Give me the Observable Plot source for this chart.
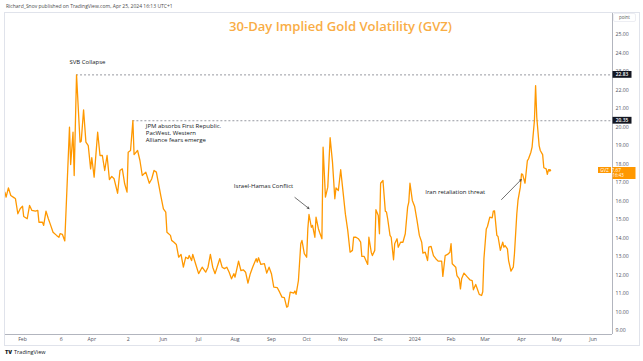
<!DOCTYPE html>
<html><head><meta charset="utf-8">
<script src="https://cdn.jsdelivr.net/npm/d3@7"></script>
<script src="https://cdn.jsdelivr.net/npm/@observablehq/plot@0.6"></script>
<style>
body{margin:0;background:#fff;}
#wrap{position:relative;width:643px;height:361px;overflow:hidden;font-family:"Open Sans",sans-serif;}
#hdr{position:absolute;left:6px;top:3px;font-size:5px;line-height:6px;color:#4a4a4a;white-space:nowrap}
#chart{position:absolute;left:0;top:12px}
#box{position:absolute;left:4px;top:12px;width:636px;height:334px;border:1px solid #e0e3eb;box-sizing:border-box;pointer-events:none}
#ftr{position:absolute;left:5px;top:349px;font-size:5.5px;line-height:6px;color:#131722;white-space:nowrap}
#ftr b{font-weight:900;font-size:5.5px;margin-right:2px}
</style></head>
<body>
<div id="wrap">
<div id="hdr">Richard_Snov published on TradingView.com, Apr 25, 2024 16:13 UTC+1</div>
<div id="chart"></div>
<div id="box"></div>
<div id="ftr"><b>TV</b>TradingView</div>
</div>
<script>
const dates = ["2023-01-17","2023-01-18","2023-01-20","2023-01-22","2023-01-25","2023-01-26","2023-01-28","2023-01-30","2023-02-01","2023-02-02","2023-02-05","2023-02-07","2023-02-09","2023-02-12","2023-02-14","2023-02-15","2023-02-18","2023-02-19","2023-02-21","2023-02-23","2023-02-25","2023-02-27","2023-03-02","2023-03-04","2023-03-05","2023-03-07","2023-03-09","2023-03-13","2023-03-14","2023-03-16","2023-03-17","2023-03-19","2023-03-22","2023-03-23","2023-03-25","2023-03-27","2023-03-29","2023-03-31","2023-04-01","2023-04-03","2023-04-06","2023-04-08","2023-04-10","2023-04-12","2023-04-14","2023-04-16","2023-04-18","2023-04-20","2023-04-23","2023-04-25","2023-04-27","2023-04-29","2023-05-01","2023-05-02","2023-05-04","2023-05-06","2023-05-07","2023-05-10","2023-05-12","2023-05-14","2023-05-17","2023-05-20","2023-05-22","2023-05-24","2023-05-26","2023-05-30","2023-06-01","2023-06-03","2023-06-04","2023-06-07","2023-06-08","2023-06-10","2023-06-12","2023-06-14","2023-06-16","2023-06-18","2023-06-20","2023-06-22","2023-06-23","2023-06-25","2023-06-26","2023-06-28","2023-07-01","2023-07-04","2023-07-07","2023-07-09","2023-07-11","2023-07-13","2023-07-15","2023-07-19","2023-07-21","2023-07-23","2023-07-25","2023-07-27","2023-07-29","2023-07-31","2023-08-01","2023-08-04","2023-08-06","2023-08-08","2023-08-10","2023-08-12","2023-08-14","2023-08-16","2023-08-19","2023-08-20","2023-08-21","2023-08-23","2023-08-26","2023-08-28","2023-08-30","2023-09-01","2023-09-03","2023-09-06","2023-09-08","2023-09-10","2023-09-12","2023-09-14","2023-09-15","2023-09-17","2023-09-20","2023-09-21","2023-09-22","2023-09-24","2023-09-26","2023-09-27","2023-09-29","2023-10-01","2023-10-02","2023-10-03","2023-10-05","2023-10-06","2023-10-08","2023-10-09","2023-10-11","2023-10-12","2023-10-14","2023-10-15","2023-10-17","2023-10-19","2023-10-21","2023-10-23","2023-10-25","2023-10-26","2023-10-28","2023-10-30","2023-11-01","2023-11-03","2023-11-05","2023-11-07","2023-11-09","2023-11-10","2023-11-12","2023-11-14","2023-11-16","2023-11-17","2023-11-19","2023-11-22","2023-11-23","2023-11-25","2023-11-26","2023-11-28","2023-11-29","2023-12-01","2023-12-02","2023-12-03","2023-12-05","2023-12-07","2023-12-08","2023-12-09","2023-12-11","2023-12-12","2023-12-14","2023-12-15","2023-12-17","2023-12-18","2023-12-20","2023-12-22","2023-12-24","2023-12-26","2023-12-27","2023-12-28","2023-12-30","2024-01-01","2024-01-03","2024-01-05","2024-01-07","2024-01-08","2024-01-10","2024-01-12","2024-01-13","2024-01-15","2024-01-17","2024-01-19","2024-01-21","2024-01-24","2024-01-25","2024-01-27","2024-01-29","2024-01-31","2024-02-01","2024-02-02","2024-02-05","2024-02-06","2024-02-08","2024-02-09","2024-02-10","2024-02-12","2024-02-15","2024-02-17","2024-02-19","2024-02-20","2024-02-22","2024-02-23","2024-02-25","2024-02-27","2024-02-28","2024-02-29","2024-03-02","2024-03-03","2024-03-05","2024-03-07","2024-03-08","2024-03-09","2024-03-11","2024-03-12","2024-03-14","2024-03-16","2024-03-17","2024-03-18","2024-03-20","2024-03-21","2024-03-23","2024-03-25","2024-03-26","2024-03-28","2024-03-29","2024-03-31","2024-04-01","2024-04-02","2024-04-04","2024-04-06","2024-04-07","2024-04-09","2024-04-10","2024-04-12","2024-04-13","2024-04-14","2024-04-16","2024-04-17","2024-04-19","2024-04-20","2024-04-22","2024-04-23","2024-04-24","2024-04-25"];
const values = [16.49,16.22,16.72,16.31,16.18,16.13,15.32,15.59,15.73,15.17,15.05,15.77,15.50,15.46,15.50,14.86,14.86,14.69,15.46,15.05,14.69,14.32,14.15,14.05,14.24,14.20,13.85,20.00,17.98,19.73,17.39,22.83,19.19,19.24,20.94,19.19,19.00,17.75,18.35,17.30,19.73,18.47,18.47,17.66,18.47,17.17,17.34,17.21,16.43,17.66,17.75,16.94,16.49,18.65,18.74,20.35,18.52,18.74,18.20,17.39,17.57,16.97,17.20,17.66,17.57,16.22,15.59,15.41,14.32,14.15,13.88,13.78,13.66,12.97,13.12,12.43,12.97,12.89,13.06,12.79,13.12,12.70,12.08,12.43,12.16,12.43,13.12,12.43,12.08,12.89,12.43,12.35,12.43,12.16,11.80,12.08,11.89,12.76,12.25,12.29,12.16,11.57,12.08,12.43,12.89,12.70,12.94,12.58,12.62,12.11,12.43,12.08,11.35,11.32,11.08,10.81,10.78,10.27,10.31,11.08,11.03,11.14,10.96,11.71,13.70,13.88,13.16,12.97,14.51,15.28,14.59,14.69,14.05,15.14,14.51,14.32,13.97,18.92,16.22,16.76,19.43,18.11,16.13,16.72,16.58,17.70,16.50,15.30,14.42,13.24,13.34,14.05,14.05,13.97,13.78,13.01,13.01,12.58,14.05,13.24,13.06,13.34,15.54,15.23,14.24,16.97,17.12,15.46,15.41,15.05,14.15,14.05,12.83,13.70,13.97,13.51,13.78,13.78,14.24,15.68,15.95,16.97,16.04,15.71,14.96,14.15,13.78,13.19,13.24,12.79,13.51,13.55,13.06,12.89,12.76,12.76,11.93,13.06,13.12,13.24,13.70,12.62,12.43,11.98,11.80,11.26,11.80,12.11,11.89,11.75,11.71,11.21,11.50,11.32,10.96,10.90,11.10,12.90,14.50,14.63,15.14,15.10,15.46,15.48,14.15,14.09,13.34,13.78,13.51,13.60,13.42,12.79,12.22,12.43,13.16,15.32,16.04,16.76,17.48,17.44,16.97,18.20,18.29,18.65,18.92,20.36,22.25,20.54,19.01,18.74,18.52,17.81,17.75,17.45,17.70,17.67];

const xTickDates = ["2023-02-01","2023-03-06","2023-04-01","2023-05-02","2023-06-01","2023-07-01","2023-08-01","2023-09-01","2023-10-01","2023-11-01","2023-12-01","2024-01-01","2024-02-01","2024-03-01","2024-04-01","2024-05-01","2024-06-01"];
const xTickLabels = ["Feb","6","Apr","2","Jun","Jul","Aug","Sep","Oct","Nov","Dec","2024","Feb","Mar","Apr","May","Jun"];
const yTicks = [9,10,11,12,13,14,15,16,17,18,19,20,21,22,23,24,25];

const levelStarts = ["2023-03-19","2023-05-06"];
const levelValues = [22.83, 20.35];

const annoTexts = ["SVB Collapse","JPM absorbs First Republic.\nPacWest, Western\nAlliance fears emerge","Israel-Hamas Conflict","Iran retaliation threat"];
const annoDates = ["2023-03-13","2023-05-17","2023-07-31","2024-01-10"];
const annoValues = [23.55, 19.68, 16.85, 16.49];

const arrowFromDates = ["2023-09-21","2024-03-15"];
const arrowFromValues = [16.2, 16.09];
const arrowToDates = ["2023-10-03","2024-03-31T18:00"];
const arrowToValues = [15.6, 17.17];

const seriesName = "GVZ";
const lastValueLabel = "17.67";
const countdownLabel = "05:16:43";
const titleText = "30-Day Implied Gold Volatility (GVZ)";

const xStart = new Date("2023-01-17T12:00Z");
const xEnd = new Date("2024-06-17T12:00Z");
const yMin = 8.79, yMax = 26.15;

const data = dates.map((d, i) => ({date: new Date(d), value: values[i]}));
const last = data[data.length - 1];
const tickMap = new Map(xTickDates.map((d, i) => [+new Date(d), xTickLabels[i]]));
const levels = levelValues.map((v, i) => ({start: new Date(levelStarts[i]), end: xEnd, value: v}));
const annos = annoTexts.map((t, i) => ({text: t, date: new Date(annoDates[i]), value: annoValues[i]}));
const arrows = arrowFromDates.map((d, i) => ({x1: new Date(d), y1: arrowFromValues[i], x2: new Date(arrowToDates[i]), y2: arrowToValues[i]}));

const ORANGE = "#ff9800";
const W = 643, H = 334, MR = 31;

const chart = Plot.plot({
  width: W, height: H,
  marginTop: 1, marginBottom: 12, marginLeft: 5, marginRight: MR,
  style: {fontFamily: "'Open Sans', sans-serif", fontSize: "5.2px", color: "#50535e", background: "transparent", overflow: "visible"},
  x: {type: "utc", domain: [xStart, xEnd], ticks: xTickDates.map(d => new Date(d)), tickFormat: d => tickMap.get(+d) ?? "", tickSize: 0, tickPadding: 3, label: null},
  y: {domain: [yMin, yMax], axis: "right", ticks: yTicks, tickFormat: d3.format(".2f"), tickSize: 0, tickPadding: 3, label: null},
  marks: [
    Plot.ruleY([yMin], {stroke: "#b2b5be", strokeWidth: 1}),
    Plot.ruleX([xEnd], {stroke: "#b2b5be", strokeWidth: 1}),
    Plot.ruleY(levels, {x1: "start", x2: "end", y: "value", stroke: "#6a6d78", strokeWidth: 0.7, strokeDasharray: "2,2"}),
    Plot.line(data, {x: "date", y: "value", stroke: ORANGE, strokeWidth: 1.3}),
    Plot.dot([last], {x: "date", y: "value", r: 1.4, fill: ORANGE}),
    Plot.text(annos, {x: "date", y: "value", text: "text", textAnchor: "start", fontSize: 6, fill: "#131722", lineHeight: 1.14}),
    Plot.arrow(arrows, {x1: "x1", y1: "y1", x2: "x2", y2: "y2", stroke: "#333", strokeWidth: 0.7, headLength: 4})
  ]
});
document.getElementById("chart").appendChild(chart);

const ys = chart.scale("y");
const svg = d3.select(chart);
const xr = W - MR;
const g = svg.append("g").attr("font-family", "'Open Sans', sans-serif");

// level badges
levelValues.forEach(v => {
  const y = ys.apply(v);
  g.append("rect").attr("x", xr + 0.5).attr("y", y - 3.4).attr("width", 19).attr("height", 6.8).attr("fill", "#131722");
  g.append("text").attr("x", xr + 10).attr("y", y).attr("dy", "0.35em").attr("text-anchor", "middle")
    .attr("font-size", 4.8).attr("font-weight", 600).attr("fill", "#fff").text(d3.format(".2f")(v));
});

// current value badge
{
  const y = ys.apply(last.value);
  g.append("rect").attr("x", xr + 0.5).attr("y", y - 2.8).attr("width", 23).attr("height", 12).attr("fill", ORANGE);
  g.append("text").attr("x", xr + 3).attr("y", y + 0.3).attr("dy", "0.35em").attr("font-size", 4.8).attr("fill", "#fff").text(lastValueLabel);
  g.append("text").attr("x", xr + 3).attr("y", y + 5.8).attr("dy", "0.35em").attr("font-size", 4.4).attr("fill", "#fff").text(countdownLabel);
  g.append("rect").attr("x", xr - 14).attr("y", y - 2.8).attr("width", 13).attr("height", 6).attr("fill", ORANGE);
  g.append("text").attr("x", xr - 7.5).attr("y", y + 0.2).attr("dy", "0.35em").attr("text-anchor", "middle").attr("font-size", 4.4).attr("fill", "#fff").text(seriesName);
}

// unit box
g.append("rect").attr("x", xr + 1.5).attr("y", 1.5).attr("width", 22).attr("height", 8).attr("rx", 1.5).attr("fill", "#fff").attr("stroke", "#e0e3eb").attr("stroke-width", 0.6);
g.append("text").attr("x", xr + 12.5).attr("y", 5.5).attr("dy", "0.35em").attr("text-anchor", "middle").attr("font-size", 4.5).attr("fill", "#555").text("point");

// title
g.append("text").attr("x", 340.5).attr("y", 19.3).attr("text-anchor", "middle")
  .attr("font-size", 13).attr("font-weight", 600).attr("fill", "#f9ad45")
  .attr("textLength", 223).attr("lengthAdjust", "spacingAndGlyphs").text(titleText);
</script>
</body></html>
